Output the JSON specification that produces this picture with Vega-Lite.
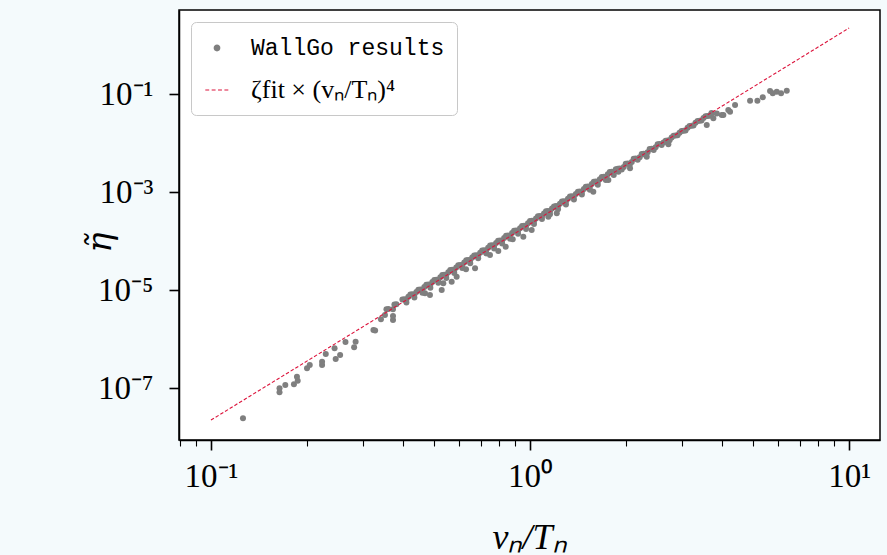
{
  "$schema": "https://vega.github.io/schema/vega-lite/v6.json",
  "width": 701,
  "height": 430,
  "autosize": "none",
  "padding": {"left": 179, "top": 10, "right": 7, "bottom": 115},
  "background": "#f4fafc",
  "config": {
    "view": {"stroke": "black", "strokeWidth": 1.5, "fill": "white"},
    "axis": {
      "grid": false,
      "domainColor": "black",
      "domainWidth": 1.5,
      "tickColor": "black",
      "labelColor": "black",
      "labelFont": "Liberation Serif",
      "labelFontSize": 33,
      "titleFont": "Liberation Serif",
      "titleColor": "black",
      "titleFontWeight": "normal",
      "titleFontStyle": "italic"
    }
  },
  "encoding": {
    "x": {
      "field": "x",
      "type": "quantitative",
      "scale": {"type": "log", "domain": [0.0794, 12.5], "nice": false},
      "axis": {
        "values": [0.08, 0.09, 0.1, 0.2, 0.3, 0.4, 0.5, 0.6, 0.7, 0.8, 0.9, 1, 2, 3, 4, 5, 6, 7, 8, 9, 10],
        "labelExpr": "datum.value == 0.1 ? '10⁻¹' : datum.value == 1 ? '10⁰' : datum.value == 10 ? '10¹' : ''",
        "labelFlush": false,
        "labelOverlap": false,
        "labelPadding": 10,
        "tickSize": {"condition": {"test": "datum.value == 0.1 || datum.value == 1 || datum.value == 10", "value": 10}, "value": 6},
        "tickWidth": {"condition": {"test": "datum.value == 0.1 || datum.value == 1 || datum.value == 10", "value": 1.6}, "value": 1.1},
        "title": "vₙ/Tₙ",
        "titleFontSize": 36,
        "titleX": 350,
        "titleY": 108,
        "titleAlign": "center",
        "titleBaseline": "alphabetic"
      }
    },
    "y": {
      "field": "y",
      "type": "quantitative",
      "scale": {"type": "log", "domain": [8.7e-9, 5.18], "nice": false},
      "axis": {
        "values": [1e-7, 1e-5, 1e-3, 1e-1],
        "labelExpr": "datum.value < 2e-7 ? '10⁻⁷' : datum.value < 2e-5 ? '10⁻⁵' : datum.value < 2e-3 ? '10⁻³' : '10⁻¹'",
        "labelPadding": 16,
        "tickSize": 10,
        "tickWidth": 1.6,
        "title": "η̃",
        "titleFont": "DejaVu Serif",
        "titleFontSize": 34,
        "titleAngle": -90,
        "titleX": -79,
        "titleY": 232,
        "titleAlign": "center",
        "titleBaseline": "middle"
      }
    }
  },
  "layer": [
    {
      "data": {"values": [
        {"x":0.126,"y":2.41e-8},{"x":0.164,"y":8.17e-8},{"x":0.164,"y":9.86e-8},{"x":0.171,"y":1.15e-7},{"x":0.182,"y":1.19e-7},{"x":0.187,"y":1.41e-7},{"x":0.186,"y":1.70e-7},{"x":0.200,"y":2.52e-7},{"x":0.204,"y":2.95e-7},{"x":0.223,"y":2.95e-7},{"x":0.223,"y":3.44e-7},{"x":0.229,"y":4.94e-7},{"x":0.246,"y":3.91e-7},{"x":0.254,"y":4.71e-7},{"x":0.244,"y":6.46e-7},{"x":0.264,"y":8.69e-7},{"x":0.281,"y":6.77e-7},{"x":0.284,"y":8.82e-7},{"x":0.323,"y":1.53e-6},{"x":0.327,"y":1.50e-6},{"x":0.341,"y":2.52e-6},{"x":0.372,"y":2.44e-6},{"x":0.372,"y":2.94e-6},{"x":0.351,"y":3.09e-6},{"x":0.372,"y":4.04e-6},
        {"x":0.4857,"y":7.91e-6},{"x":0.4687,"y":8.57e-6},{"x":0.5287,"y":1.0e-5},{"x":0.5348,"y":1.371e-5},{"x":0.5681,"y":1.476e-5},{"x":0.5889,"y":1.868e-5},{"x":0.6301,"y":2.643e-5},{"x":0.6725,"y":2.773e-5},{"x":0.749,"y":5.18e-5},{"x":0.7953,"y":6.25e-5},{"x":0.8391,"y":7.66e-5},{"x":0.8827,"y":1.084e-4},{"x":0.9528,"y":1.225e-4},{"x":1.012,"y":1.675e-4},{"x":1.141,"y":3.13e-4},{"x":1.213,"y":3.67e-4},
        {"x":1.579,"y":1.014e-3},{"x":1.76,"y":1.758e-3},{"x":1.892,"y":2.594e-3},{"x":2.058,"y":3.05e-3},{"x":2.322,"y":5.25e-3},{"x":2.714,"y":9.4e-3},{"x":3.58,"y":2.33e-2},{"x":3.755,"y":3.19e-2},{"x":4.036,"y":3.73e-2},{"x":4.183,"y":4.71e-2},{"x":4.392,"y":5.97e-2},{"x":4.894,"y":7.29e-2},{"x":5.16,"y":7.29e-2},{"x":5.364,"y":8.57e-2},{"x":5.654,"y":0.1151},{"x":5.765,"y":0.1033},{"x":5.934,"y":0.1114},{"x":6.121,"y":0.1033},{"x":6.378,"y":0.1167},{"x":3.99,"y":3.73e-2},{"x":4.236,"y":4.35e-2},{"x":3.70,"y":3.9e-2},{"x":3.85,"y":4.0e-2},
        {"x":0.3548,"y":4.046e-6},{"x":0.3758,"y":5.093e-6},{"x":0.3981,"y":6.412e-6},{"x":0.4217,"y":8.07e-6},{"x":0.4467,"y":1.016e-5},{"x":0.4732,"y":1.279e-5},{"x":0.5012,"y":1.611e-5},{"x":0.5309,"y":2.028e-5},{"x":0.5623,"y":2.553e-5},{"x":0.5957,"y":3.214e-5},{"x":0.631,"y":4.046e-5},{"x":0.6683,"y":5.093e-5},{"x":0.7079,"y":6.412e-5},{"x":0.7499,"y":8.07e-5},{"x":0.7943,"y":1.016e-4},{"x":0.8414,"y":1.279e-4},{"x":0.8913,"y":1.611e-4},{"x":0.9441,"y":2.028e-4},{"x":1.0,"y":2.553e-4},{"x":1.059,"y":3.214e-4},{"x":1.122,"y":4.046e-4},{"x":1.189,"y":5.093e-4},{"x":1.259,"y":6.412e-4},{"x":1.334,"y":8.07e-4},{"x":1.413,"y":1.016e-3},{"x":1.496,"y":1.279e-3},{"x":1.585,"y":1.611e-3},{"x":1.679,"y":2.028e-3},{"x":1.778,"y":2.553e-3},{"x":1.884,"y":2.999e-3},{"x":1.995,"y":3.776e-3},{"x":2.113,"y":4.753e-3},{"x":2.239,"y":5.984e-3},{"x":2.371,"y":7.534e-3},{"x":2.512,"y":9.484e-3},{"x":2.661,"y":1.114e-2},{"x":2.818,"y":1.403e-2},{"x":2.985,"y":1.766e-2},{"x":3.162,"y":2.223e-2},{"x":3.35,"y":2.799e-2},{"x":3.548,"y":3.524e-2},
        {"x":0.4097,"y":6.412e-6},{"x":0.4341,"y":8.07e-6},{"x":0.4597,"y":1.016e-5},{"x":0.487,"y":1.279e-5},{"x":0.5158,"y":1.611e-5},{"x":0.5464,"y":2.028e-5},{"x":0.5788,"y":2.553e-5},{"x":0.6131,"y":3.214e-5},{"x":0.6494,"y":4.046e-5},{"x":0.6879,"y":5.093e-5},{"x":0.7286,"y":6.412e-5},{"x":0.7718,"y":8.07e-5},{"x":0.8176,"y":1.016e-4},{"x":0.866,"y":1.279e-4},{"x":0.9173,"y":1.611e-4},{"x":0.9716,"y":2.028e-4},{"x":1.029,"y":2.553e-4},{"x":1.09,"y":3.214e-4},{"x":1.155,"y":4.046e-4},{"x":1.223,"y":5.093e-4},{"x":1.296,"y":6.412e-4},{"x":1.372,"y":8.07e-4},{"x":1.454,"y":1.016e-3},{"x":1.54,"y":1.279e-3},{"x":1.631,"y":1.611e-3},{"x":1.728,"y":2.028e-3},{"x":1.83,"y":2.553e-3},{"x":1.939,"y":2.864e-3},{"x":2.054,"y":3.606e-3},{"x":2.175,"y":4.539e-3},{"x":2.304,"y":5.715e-3},{"x":2.441,"y":7.194e-3},{"x":2.585,"y":9.057e-3},{"x":2.738,"y":1.14e-2},{"x":2.9,"y":1.435e-2},{"x":3.072,"y":1.807e-2},{"x":3.254,"y":2.275e-2},{"x":3.447,"y":2.864e-2},{"x":3.652,"y":3.606e-2},
        {"x":0.3599,"y":4.095e-6},{"x":0.3812,"y":5.154e-6},{"x":0.4039,"y":6.489e-6},{"x":0.4278,"y":8.167e-6},{"x":0.4532,"y":1.028e-5},{"x":0.4801,"y":1.294e-5},{"x":0.5085,"y":1.63e-5},{"x":0.5386,"y":2.052e-5},{"x":0.5705,"y":2.584e-5},{"x":0.6043,"y":3.253e-5},{"x":0.6401,"y":4.095e-5},{"x":0.678,"y":5.154e-5},{"x":0.7182,"y":6.489e-5},{"x":0.7608,"y":8.167e-5},{"x":0.8058,"y":1.028e-4},{"x":0.8536,"y":1.294e-4},{"x":0.9042,"y":1.63e-4},{"x":0.9578,"y":2.052e-4},{"x":1.0145,"y":2.584e-4},{"x":1.074,"y":3.253e-4},{"x":1.138,"y":4.095e-4},{"x":1.206,"y":5.154e-4},{"x":1.277,"y":6.489e-4},{"x":1.353,"y":8.167e-4},{"x":1.433,"y":1.028e-3},{"x":1.518,"y":1.294e-3},{"x":1.608,"y":1.63e-3},{"x":1.703,"y":2.052e-3},{"x":1.804,"y":2.584e-3},{"x":1.911,"y":3.035e-3},{"x":2.024,"y":3.821e-3},{"x":2.144,"y":4.81e-3},{"x":2.271,"y":6.056e-3},{"x":2.405,"y":7.624e-3},{"x":2.548,"y":9.598e-3},{"x":2.7,"y":1.127e-2},{"x":2.859,"y":1.42e-2},{"x":3.028,"y":1.787e-2},{"x":3.208,"y":2.25e-2},{"x":3.399,"y":2.833e-2},{"x":3.599,"y":3.566e-2},
        {"x":0.4156,"y":7.278e-6},{"x":0.4404,"y":9.159e-6},{"x":0.4664,"y":1.153e-5},{"x":0.4941,"y":1.452e-5},{"x":0.5233,"y":1.828e-5},{"x":0.5543,"y":2.302e-5},{"x":0.5872,"y":2.898e-5},{"x":0.622,"y":3.648e-5},{"x":0.6588,"y":4.592e-5},{"x":0.6979,"y":5.781e-5},{"x":0.7392,"y":7.278e-5},{"x":0.783,"y":9.159e-5},{"x":0.8295,"y":1.153e-4},{"x":0.8786,"y":1.452e-4},{"x":0.9306,"y":1.828e-4},{"x":0.9857,"y":2.302e-4},{"x":1.044,"y":2.898e-4},{"x":1.106,"y":3.648e-4},{"x":1.172,"y":4.592e-4},{"x":1.241,"y":5.781e-4},{"x":1.315,"y":7.278e-4},{"x":1.392,"y":9.159e-4},{"x":1.475,"y":1.153e-3},{"x":1.562,"y":1.452e-3},{"x":1.655,"y":1.828e-3},{"x":1.753,"y":2.302e-3},{"x":1.857,"y":2.898e-3},{"x":1.967,"y":3.251e-3},{"x":2.084,"y":4.093e-3},{"x":2.207,"y":5.152e-3},{"x":2.337,"y":6.487e-3},{"x":2.476,"y":8.165e-3},{"x":2.622,"y":1.028e-2},{"x":2.778,"y":1.294e-2},{"x":2.942,"y":1.629e-2},{"x":3.117,"y":2.051e-2},{"x":3.301,"y":2.582e-2},{"x":3.497,"y":3.251e-2},{"x":3.705,"y":4.093e-2},
        {"x":0.4098,"y":5.585e-6},{"x":0.4341,"y":7.029e-6},{"x":0.4598,"y":8.849e-6},{"x":0.4871,"y":1.114e-5},{"x":0.5159,"y":1.403e-5},{"x":0.5465,"y":1.766e-5},{"x":0.5788,"y":2.224e-5},{"x":0.6132,"y":2.799e-5},{"x":0.6495,"y":3.524e-5},{"x":0.6879,"y":4.436e-5},{"x":0.7286,"y":5.585e-5},{"x":0.7719,"y":7.029e-5},{"x":0.8176,"y":8.849e-5},{"x":0.8661,"y":1.114e-4},{"x":0.9174,"y":1.403e-4},{"x":0.9718,"y":1.766e-4},{"x":1.029,"y":2.224e-4},{"x":1.09,"y":2.799e-4},{"x":1.155,"y":3.524e-4},{"x":1.224,"y":4.436e-4},{"x":1.296,"y":5.585e-4},{"x":1.373,"y":7.029e-4},{"x":1.454,"y":8.849e-4},{"x":1.54,"y":1.114e-3},{"x":1.631,"y":1.403e-3},{"x":1.728,"y":1.766e-3},{"x":1.83,"y":2.224e-3}
      ]},
      "mark": {"type": "point", "filled": true, "size": 36, "opacity": 1},
      "encoding": {
        "color": {
          "datum": "WallGo results",
          "type": "nominal",
          "scale": {"domain": ["WallGo results", "ζfit × (vₙ/Tₙ)⁴"], "range": ["#7f7f7f", "#dc143c"]},
          "legend": {
            "orient": "top-left",
            "offset": 12,
            "title": null,
            "fillColor": "white",
            "strokeColor": "#c8c8c8",
            "cornerRadius": 5,
            "padding": 12,
            "rowPadding": 16,
            "symbolSize": 676,
            "symbolType": {"expr": "datum.value == 'WallGo results' ? 'M-0.26,0A0.26,0.26 0 1,0 0.26,0A0.26,0.26 0 1,0 -0.26,0Z' : 'M-0.9,-0.045H-0.6V0.045H-0.9Z M-0.41,-0.045H-0.11V0.045H-0.41Z M0.08,-0.045H0.38V0.045H0.08Z M0.57,-0.045H0.87V0.045H0.57Z'"},
            "labelOffset": 20,
            "labelLimit": 400,
            "labelFont": {"expr": "datum.value == 'WallGo results' ? 'Liberation Mono' : 'Liberation Serif'"},
            "labelFontSize": {"expr": "datum.value == 'WallGo results' ? 23 : 26"},
            "labelColor": "black"
          }
        }
      }
    },
    {
      "data": {"values": [{"x": 0.1, "y": 2.22e-8}, {"x": 10, "y": 2.22}]},
      "mark": {"type": "line", "strokeWidth": 1.1, "strokeDash": [3.5, 2], "color": "#dc143c"},
      "encoding": {}
    }
  ]
}
